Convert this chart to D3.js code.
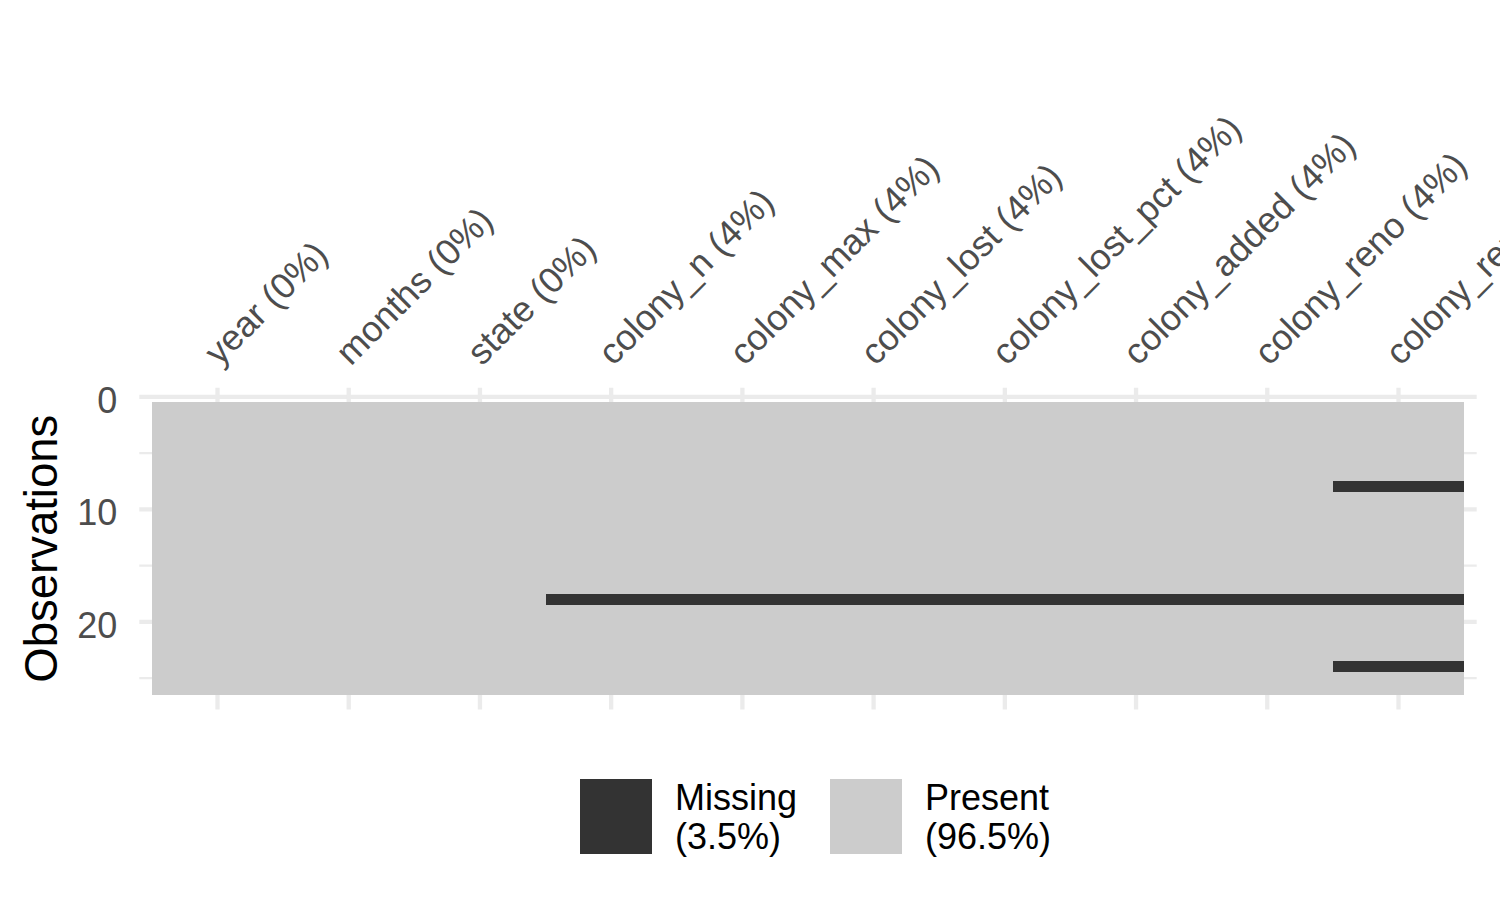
<!DOCTYPE html>
<html>
<head>
<meta charset="utf-8">
<script src="https://cdn.jsdelivr.net/npm/d3@7"></script>
<style>
  body { margin: 0; background: #fff; }
  text { font-family: "Liberation Sans", Arial, Helvetica, sans-serif; }
</style>
</head>
<body>
<div id="chart"></div>
<script>
var variables = ["year", "months", "state", "colony_n", "colony_max", "colony_lost",
                 "colony_lost_pct", "colony_added", "colony_reno", "colony_reno_pct"],
    pctLabels = ["0%", "0%", "0%", "4%", "4%", "4%", "4%", "4%", "4%", "12%"],
    // rows (1-based) with a missing value, one list per variable
    missingRows = [[], [], [], [18], [18], [18], [18], [18], [18], [8, 18, 24]],
    nObs = 26,
    yTicks = [0, 10, 20],
    yMinor = [5, 15, 25],
    legendKeys = ["Missing", "Present"],
    legendPct = ["(3.5%)", "(96.5%)"];

var width = 1500,
    height = 900,
    panel = { left: 139.3, right: 1476.7, top: 387.8, bottom: 709.6 },
    colMissing = "#333333",
    colPresent = "#cccccc",
    gridCol = "#ebebeb";

var svg = d3.select("#chart")
    .append("svg")
    .attr("width", width)
    .attr("height", height);

var xScale = d3.scaleBand()
    .domain(variables)
    .range([panel.left, panel.right])
    .paddingInner(0)
    .paddingOuter(0.096);

var yScale = d3.scaleLinear()
    .domain([-0.8, 27.8])
    .range([panel.top, panel.bottom]);

// grid
var grid = svg.append("g");
grid.selectAll(".hminor")
    .data(yMinor)
    .enter().append("line")
    .attr("x1", panel.left).attr("x2", panel.right)
    .attr("y1", d => yScale(d)).attr("y2", d => yScale(d))
    .attr("stroke", gridCol).attr("stroke-width", 2.2);
grid.selectAll(".hmajor")
    .data(yTicks)
    .enter().append("line")
    .attr("x1", panel.left).attr("x2", panel.right)
    .attr("y1", d => yScale(d)).attr("y2", d => yScale(d))
    .attr("stroke", gridCol).attr("stroke-width", 4.3);
grid.selectAll(".vmajor")
    .data(variables)
    .enter().append("line")
    .attr("x1", d => xScale(d) + xScale.bandwidth() / 2)
    .attr("x2", d => xScale(d) + xScale.bandwidth() / 2)
    .attr("y1", panel.top).attr("y2", panel.bottom)
    .attr("stroke", gridCol).attr("stroke-width", 4.3);

// cells
var cells = [];
variables.forEach(function (v, i) {
    for (var r = 1; r <= nObs; r++) {
        cells.push({ variable: v, row: r, missing: missingRows[i].indexOf(r) >= 0 });
    }
});
cells.sort((a, b) => a.missing - b.missing);

svg.append("g")
    .attr("shape-rendering", "crispEdges")
    .selectAll("rect")
    .data(cells)
    .enter().append("rect")
    .attr("x", d => xScale(d.variable))
    .attr("y", d => yScale(d.row - 0.5))
    .attr("width", xScale.bandwidth())
    .attr("height", d => yScale(d.row + 0.5) - yScale(d.row - 0.5))
    .attr("fill", d => d.missing ? colMissing : colPresent);

// y axis
var yAxis = svg.append("g")
    .attr("transform", "translate(" + panel.left + ",0)")
    .call(d3.axisLeft(yScale).tickValues(yTicks).tickSize(0).tickPadding(22));
yAxis.select(".domain").remove();
yAxis.selectAll("text")
    .attr("dy", "0.43em")
    .style("font-size", "36px")
    .attr("fill", "#4d4d4d");

// x axis on top, rotated labels
var xAxis = svg.append("g")
    .attr("transform", "translate(0," + panel.top + ")")
    .call(d3.axisTop(xScale).tickSize(0)
        .tickFormat((d, i) => d + " (" + pctLabels[i] + ")"));
xAxis.select(".domain").remove();
xAxis.selectAll("text")
    .attr("x", 0).attr("y", 0).attr("dy", 0)
    .attr("text-anchor", "start")
    .attr("transform", "translate(2,-21) rotate(-45)")
    .style("font-size", "36px")
    .attr("fill", "#4d4d4d");

// y title
svg.append("text")
    .attr("transform", "translate(57," + (panel.top + panel.bottom) / 2 + ") rotate(-90)")
    .attr("text-anchor", "middle")
    .style("font-size", "45.5px")
    .attr("fill", "#000")
    .text("Observations");

// legend
var legendX = [580, 830];
var legend = svg.append("g")
    .selectAll("g")
    .data(legendKeys)
    .enter().append("g")
    .attr("transform", (d, i) => "translate(" + legendX[i] + ",779)");
legend.append("rect")
    .attr("width", 72).attr("height", 75)
    .attr("fill", (d, i) => i === 0 ? colMissing : colPresent);
var lt = legend.append("text")
    .attr("x", 95)
    .style("font-size", "36px")
    .attr("fill", "#000");
lt.append("tspan").attr("x", 95).attr("y", 31).text(d => d);
lt.append("tspan").attr("x", 95).attr("y", 70).text((d, i) => legendPct[i]);
</script>
</body>
</html>
